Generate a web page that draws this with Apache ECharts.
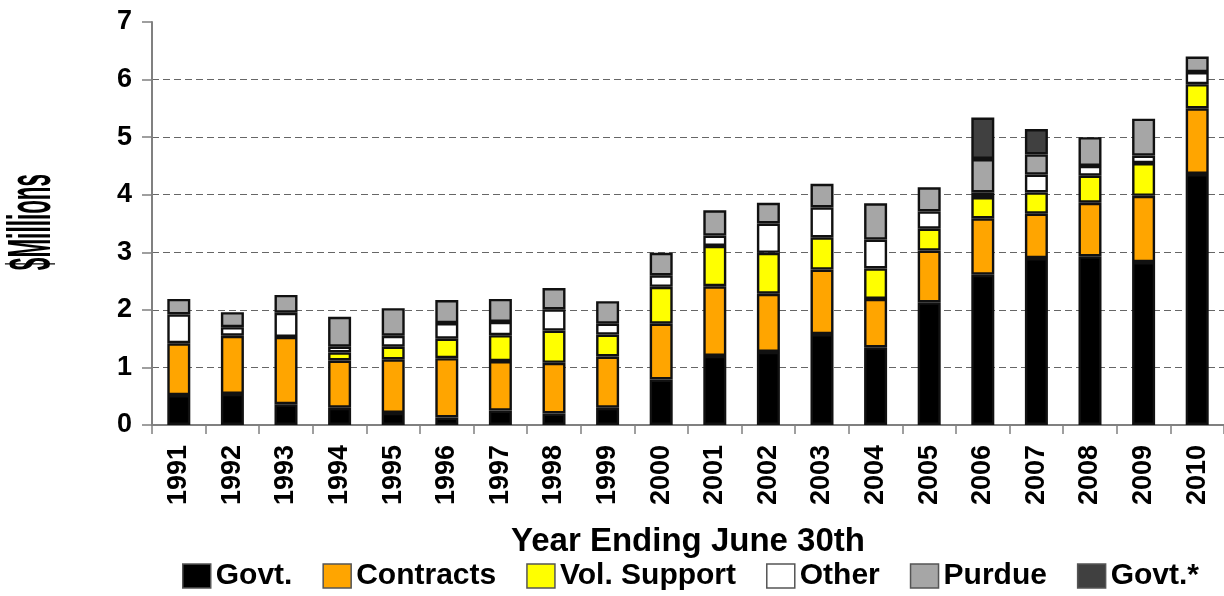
<!DOCTYPE html>
<html>
<head>
<meta charset="utf-8">
<script src="https://cdn.jsdelivr.net/npm/echarts@6/dist/echarts.min.js"></script>
<style>
  html, body { margin: 0; padding: 0; background: #fff; }
  #chart { width: 1224px; height: 596px; }
</style>
</head>
<body>
<div id="chart"></div>
<script>
// Funding by source, $ millions, fiscal years ending June 30th
const years = ['1991','1992','1993','1994','1995','1996','1997','1998','1999','2000',
               '2001','2002','2003','2004','2005','2006','2007','2008','2009','2010'];
const govt      = [0.52,0.54,0.36,0.30,0.21,0.13,0.25,0.20,0.30,0.79,1.20,1.27,1.58,1.35,2.13,2.61,2.90,2.93,2.83,4.36];
const contracts = [0.90,1.01,1.17,0.82,0.93,1.03,0.86,0.88,0.89,0.97,1.21,1.01,1.12,0.84,0.90,0.98,0.77,0.93,1.15,1.14];
const volSupport= [0,0,0,0.14,0.22,0.34,0.45,0.56,0.38,0.64,0.70,0.71,0.56,0.53,0.38,0.37,0.37,0.47,0.57,0.42];
const other     = [0.50,0.15,0.42,0.10,0.19,0.27,0.23,0.37,0.19,0.20,0.18,0.51,0.52,0.50,0.30,0.08,0.31,0.17,0.13,0.21];
const purdue    = [0.27,0.26,0.31,0.52,0.48,0.40,0.40,0.37,0.39,0.39,0.44,0.36,0.41,0.63,0.42,0.58,0.35,0.50,0.64,0.27];
const govtStar  = [0,0,0,0,0,0,0,0,0,0,0,0,0,0,0,0.72,0.44,0,0,0];
const yTicks = [0,1,2,3,4,5,6,7];

const FONT = '"Liberation Sans", Arial, Helvetica, sans-serif';

const seriesDefs = [
  { name: 'Govt.',        data: govt,       color: '#000000' },
  { name: 'Contracts',    data: contracts,  color: '#FFA500' },
  { name: 'Vol. Support', data: volSupport, color: '#FFFF00' },
  { name: 'Other',        data: other,      color: '#FFFFFF' },
  { name: 'Purdue',       data: purdue,     color: '#A6A6A6' },
  { name: 'Govt.*',       data: govtStar,   color: '#404040' }
];

const chart = echarts.init(document.getElementById('chart'), null, { renderer: 'canvas' });

chart.setOption({
  animation: false,
  backgroundColor: '#ffffff',
  grid: { left: 152, top: 22, width: 1081, height: 403, containLabel: false },
  legend: {
    data: seriesDefs.map(s => s.name),
    left: 177,
    top: 556,
    itemWidth: 28,
    itemHeight: 24,
    itemGap: 30,
    icon: 'rect',
    itemStyle: { borderWidth: 1.5, borderColor: '#555555' },
    textStyle: { fontFamily: FONT, fontWeight: 'bold', fontSize: 30, color: '#000' }
  },
  xAxis: {
    type: 'category',
    data: years,
    boundaryGap: true,
    name: 'Year Ending June 30th',
    nameLocation: 'middle',
    nameGap: 100,
    nameTextStyle: { fontFamily: FONT, fontWeight: 'bold', fontSize: 33, color: '#000' },
    axisLine: { show: true, lineStyle: { color: '#808080', width: 2 } },
    axisTick: { show: true, alignWithLabel: false, length: 9, lineStyle: { color: '#808080', width: 1.5 } },
    axisLabel: {
      rotate: 90, margin: 20,
      fontFamily: FONT, fontWeight: 'bold', fontSize: 27, color: '#000'
    },
    splitLine: { show: false }
  },
  yAxis: {
    type: 'value',
    min: yTicks[0],
    max: yTicks[yTicks.length - 1],
    interval: 1,
    axisLine: { show: true, lineStyle: { color: '#808080', width: 2 } },
    axisTick: { show: true, length: 10, lineStyle: { color: '#808080', width: 1.5 } },
    axisLabel: { margin: 20, fontFamily: FONT, fontWeight: 'bold', fontSize: 27, color: '#000' },
    splitLine: {
      show: true, showMinLine: false, showMaxLine: false,
      lineStyle: { color: '#666666', width: 1.2, type: [7, 4] }
    }
  },
  graphic: [{
    type: 'text',
    x: 33, y: 222,
    rotation: Math.PI / 2,
    scaleX: 0.45, scaleY: 1.22,
    style: {
      text: '$Millions',
      font: 'bold 50px ' + FONT,
      fill: '#000',
      textAlign: 'center',
      textVerticalAlign: 'middle'
    }
  }],
  series: seriesDefs.map(s => ({
    name: s.name,
    type: 'bar',
    stack: 'total',
    barWidth: 23,
    data: s.data.map(v => (v === 0 ? null : v)),
    itemStyle: { color: s.color, borderColor: '#111111', borderWidth: 2.4 },
    emphasis: { disabled: true }
  }))
});
</script>
</body>
</html>
